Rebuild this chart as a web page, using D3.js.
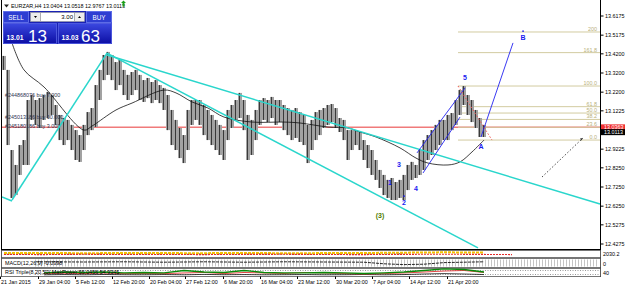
<!DOCTYPE html>
<html>
<head>
<meta charset="utf-8">
<script src="https://cdn.jsdelivr.net/npm/d3@7"></script>
<style>
body{margin:0;background:#fff;}
svg{display:block;font-family:"Liberation Sans",Arial,sans-serif;}
</style>
</head>
<body>
<svg id="chart"></svg>
<script>
// EURZAR H4 bars (high / low), one entry per bar slot
var hiVals = [13.409,13.336,12.918,12.840,12.944,12.970,13.179,13.205,13.179,13.189,
 13.205,13.221,13.205,13.153,13.101,13.085,13.075,13.049,13.022,12.996,
 13.049,13.116,13.137,13.257,13.336,13.414,13.430,13.414,13.377,13.388,
 13.336,13.310,13.325,13.336,13.310,13.283,13.294,13.273,13.283,13.257,
 13.242,13.205,13.127,13.075,13.033,12.996,13.127,13.179,13.179,13.179,
 13.153,13.127,13.101,13.075,13.049,13.022,13.127,13.153,13.179,13.216,
 13.179,13.101,13.075,13.127,13.179,13.189,13.179,13.195,13.179,13.179,
 13.153,13.137,13.127,13.137,13.116,13.101,13.049,13.075,13.116,13.127,
 13.137,13.153,13.158,13.137,13.085,13.075,13.022,13.022,13.022,13.012,
 12.970,12.944,12.918,12.866,12.814,12.788,12.762,12.772,12.751,12.762,
 12.788,12.840,12.856,12.840,12.918,12.970,12.996,13.022,13.049,13.075,
 13.075,13.101,13.111,13.179,13.231,13.252,13.205,13.179,13.127,13.085,
 13.049];
var loVals = [13.336,12.944,12.668,12.683,12.788,12.840,12.840,13.075,13.049,13.033,
 13.075,13.085,13.101,13.049,12.970,12.944,12.970,12.918,12.866,12.856,
 12.918,12.996,13.022,13.038,13.179,13.283,13.310,13.283,13.231,13.257,
 13.205,13.179,13.205,13.231,13.179,13.169,13.189,13.163,13.179,13.163,
 13.127,13.022,12.944,12.918,12.876,12.850,12.918,13.049,13.075,13.049,
 12.996,12.970,12.944,12.918,12.892,12.866,12.970,13.033,13.075,13.085,
 13.022,12.866,12.892,12.970,13.049,13.075,13.064,13.085,13.049,13.064,
 13.022,12.996,12.970,12.981,12.960,12.944,12.850,12.918,12.970,12.996,
 13.033,13.049,13.064,13.033,13.012,12.970,12.866,12.918,12.944,12.918,
 12.866,12.824,12.788,12.762,12.720,12.683,12.668,12.657,12.657,12.668,
 12.657,12.709,12.762,12.772,12.788,12.814,12.866,12.892,12.918,12.944,
 12.970,12.970,13.022,13.049,13.101,13.153,13.101,13.064,13.033,12.986,
 12.986];

var maIdx = [2,5,10,20,22,28,32,40,43,47,51,55,62,70,74,81,86,89,93,99,103,106,111,114,117,120];
var maVals = [13.477,13.336,13.247,13.022,13.043,13.127,13.163,13.231,13.216,13.169,13.137,13.090,13.064,
 13.064,13.059,13.038,13.033,13.012,12.986,12.929,12.876,12.850,12.840,12.856,12.908,12.970];

var priceTicks = [13.6175,13.5175,13.4200,13.3200,13.2200,13.1225,12.9225,12.8250,12.7250,12.6250,12.5275,12.4275];
var timeLabels = ["21 Jan 2015","29 Jan 04:00","5 Feb 12:00","12 Feb 20:00","20 Feb 04:00","27 Feb 12:00",
 "6 Mar 20:00","16 Mar 04:00","23 Mar 12:00","30 Mar 20:00","7 Apr 04:00","14 Apr 12:00","21 Apr 20:00"];
var timeIdx = [-0.75,8.75,18,27.25,36.5,45.5,55,64.25,73.5,83,92.25,101.5,111];

var askLine = 13.0363, bidPrice = 13.0113;

// trendlines: [index1, price1, index2, price2]
var cyanLines = [[-0.5,12.673,2,12.652],[2,12.657,25.75,13.424],[25.75,13.414,149,12.636],[25.75,13.424,118.5,12.407]];
var blueLines = [[103.25,12.903,115.25,13.242],[104.75,12.798,114,13.090],[119.25,12.986,127.25,13.477]];
var redDotted = [113.5,13.252,122,12.970];
var blackDotted = [134.5,12.777,144.75,12.981];

var fibStartIdx = 113.5, fibZero = 12.970, fibHundred = 13.252;
var fibLevels = [0,23.6,38.2,50,61.8,100,161.8,200];
var fibNames = ["0.0","23.6","38.2","50.0","61.8","100.0","161.8","200"];

var waveNames = ["1","2","3","4","5","A","B","(3)"];
var waveIdx = [96.5,100,98.75,103,115.25,119.25,129.75,94];
var wavePrice = [12.746,12.642,12.840,12.715,13.294,12.934,13.503,12.574];

var orderNames = ["#244868076 buy 7.000","#245013186 buy 10.000","#245180186 buy 3.000"];
var orderPrice = [13.205,13.092,13.045];

// sub window indicators
var p1Idx = [0,10,20,30,40,50,60,70,80,90,100,110,120,127];
var p1Yellow = [6.5,6.8,6.3,6.7,6.5,6.4,6.8,6.3,6.5,6.7,7.2,7.8,7.4,null];
var p1Red = [4.2,4.0,4.5,4.1,4.2,4.0,4.3,4.5,4.1,4.0,4.4,4.6,4.3,4.0];
var p1Black = [5.2,5.3,5.0,5.4,5.2,5.1,5.3,5.0,5.2,5.3,5.4,null,null,null];
var p2Idx = [8,20,30,40,50,60,70,80,90,95,100,105,110,120];
var macdVals = [0.3,0.25,0.3,0.2,0.3,0.2,0.3,0.25,0.2,-0.2,-0.4,-0.3,0.1,0.3];
var p3Idx = [10,15,20,25,30,35,40,45,50,55,60,65,70,75,80,85,90,95,100,105,110,115,120];
var p3Green = [3.8,5,4.4,5,3.8,4.4,3.8,6.9,5,4.4,6.9,4.4,3.8,3.8,4.4,3.8,3.1,3.8,5,6.9,8.8,8.1,5];
var p3Red = [3,3.5,3,3.8,3,3.1,3,3.8,4.4,3,4.4,3.8,3.1,4.4,3.8,3.1,2.5,3,3.8,5,6.2,6.9,4.4];
var p3Black = [1.5,1.8,1.5,1.9,1.6,1.5,1.8,1.5,2,1.6,1.8,1.5,1.6,1.8,1.5,1.6,1.9,1.5,1.8,2.5,3,2.5,1.8];

var W = 625, H = 286, right = 600.5, mainBottom = 249.5;
var fs = 5.4;

var svg = d3.select('#chart').attr('width', W).attr('height', H);

var x = d3.scaleLinear().domain([0,120]).range([4,484]);
var y = d3.scaleLinear().domain([12.4275,13.6175]).range([244,16]);
var p1y = d3.scaleLinear().domain([0,10]).range([257,251]);
var p2y = d3.scaleLinear().domain([-1,1]).range([267,259]);
var p3y = d3.scaleLinear().domain([0,10]).range([276,268]);

var defs = svg.append('defs');
defs.append('clipPath').attr('id','mainClip').append('rect')
	.attr('x',2).attr('y',0).attr('width',right-2).attr('height',mainBottom);
var grad = defs.append('linearGradient').attr('id','blueBox')
	.attr('x1',0).attr('y1',0).attr('x2',0).attr('y2',1);
grad.append('stop').attr('offset','0%').attr('stop-color','#3b48e0');
grad.append('stop').attr('offset','100%').attr('stop-color','#0c0ea4');

var main = svg.append('g').attr('clip-path','url(#mainClip)');

// ask line
main.append('line')
	.attr('x1',0).attr('x2',right)
	.attr('y1',y(askLine)).attr('y2',y(askLine))
	.attr('stroke','#f07a7a').attr('stroke-width',1.5);

// fibonacci
var fibY = function(l){ return y(fibZero + (fibHundred-fibZero)*l/100); };
main.selectAll('.fib').data(fibLevels).enter().append('line')
	.attr('x1',x(fibStartIdx)).attr('x2',right)
	.attr('y1',fibY).attr('y2',fibY)
	.attr('stroke','#d2cba0').attr('stroke-width',1);
main.selectAll('.fibt').data(fibLevels).enter().append('text')
	.attr('x',597).attr('y',function(d){return fibY(d)-1;})
	.attr('text-anchor','end').attr('font-size',fs).attr('fill','#b8b07c')
	.text(function(d,i){return fibNames[i];});

// bars
var bars = main.append('g');
bars.selectAll('rect').data(hiVals).enter().append('rect')
	.attr('x',function(d,i){return x(i)-2;})
	.attr('width',4)
	.attr('y',function(d){return y(d);})
	.attr('height',function(d,i){return y(loVals[i])-y(d);})
	.attr('fill','#a2a2a2');
bars.selectAll('line').data(hiVals).enter().append('line')
	.attr('x1',function(d,i){return x(i)-0.5;}).attr('x2',function(d,i){return x(i)-0.5;})
	.attr('y1',function(d){return y(d);})
	.attr('y2',function(d,i){return y(loVals[i]);})
	.attr('stroke','#3a3a3a').attr('stroke-width',1);

// order labels
main.selectAll('.ord').data(orderNames).enter().append('text')
	.attr('x',5).attr('y',function(d,i){return y(orderPrice[i])+2;})
	.attr('font-size',fs).attr('fill','#2e3450')
	.text(function(d){return d;});

// moving average
main.append('path')
	.datum(maIdx)
	.attr('d', d3.line().curve(d3.curveCatmullRom)
		.x(function(d){return x(d);})
		.y(function(d,i){return y(maVals[i]);}))
	.attr('fill','none').attr('stroke','#111').attr('stroke-width',0.8);

function seg(g, d, color, w, dash){
	g.append('line')
		.attr('x1',x(d[0])).attr('y1',y(d[1]))
		.attr('x2',x(d[2])).attr('y2',y(d[3]))
		.attr('stroke',color).attr('stroke-width',w)
		.attr('stroke-dasharray',dash||null);
}
cyanLines.forEach(function(d){ seg(main,d,'#2ad6cc',1.5); });
blueLines.forEach(function(d){ seg(main,d,'#2424f0',0.9); });
seg(main,redDotted,'#f05050',1,'1.5,2');
seg(main,blackDotted,'#333',0.9,'1.5,2');
main.append('path')
	.attr('d','M'+(x(blackDotted[2])-3)+','+(y(blackDotted[3])+0.5)+'l3,-0.5l-1.5,2.5z')
	.attr('fill','#333');

// wave labels
main.selectAll('.wave').data(waveNames).enter().append('text')
	.attr('x',function(d,i){return x(waveIdx[i]);})
	.attr('y',function(d,i){return y(wavePrice[i])+2.5;})
	.attr('text-anchor','middle').attr('font-size',7).attr('font-weight','bold')
	.attr('fill',function(d){return d=='(3)' ? '#4f7d00' : '#1a1af0';})
	.text(function(d){return d;});
[[100,12.642],[129.75,13.503]].forEach(function(d){
	main.append('rect').attr('x',x(d[0])-0.7).attr('y',y(d[1])-7.5)
		.attr('width',1.5).attr('height',1.5).attr('fill','#1a1af0');
});

// frames
svg.append('line').attr('x1',1.5).attr('x2',1.5).attr('y1',0).attr('y2',277)
	.attr('stroke','#000');
svg.append('line').attr('x1',right).attr('x2',right).attr('y1',0).attr('y2',277)
	.attr('stroke','#000');
svg.append('line').attr('x1',1.5).attr('x2',right).attr('y1',mainBottom).attr('y2',mainBottom)
	.attr('stroke','#000');

// price axis
var axisG = svg.append('g');
axisG.selectAll('line').data(priceTicks).enter().append('line')
	.attr('x1',right).attr('x2',right+3)
	.attr('y1',function(d){return y(d);}).attr('y2',function(d){return y(d);})
	.attr('stroke','#000');
axisG.selectAll('text').data(priceTicks).enter().append('text')
	.attr('x',605).attr('y',function(d){return y(d)+2;})
	.attr('font-size',fs).attr('fill','#000')
	.text(function(d){return d.toFixed(4);});
axisG.append('rect').attr('x',601).attr('y',y(askLine)-3).attr('width',24).attr('height',6)
	.attr('fill','#f03030');
axisG.append('text').attr('x',604).attr('y',y(askLine)+2).attr('font-size',fs).attr('fill','#fff')
	.text(askLine.toFixed(4));
axisG.append('rect').attr('x',601).attr('y',y(bidPrice)-3).attr('width',24).attr('height',6)
	.attr('fill','#000');
axisG.append('text').attr('x',604).attr('y',y(bidPrice)+2).attr('font-size',fs).attr('fill','#fff')
	.text(bidPrice.toFixed(4));

// sub windows
[[250.5,257.5],[258.5,267.5],[268.5,276.5]].forEach(function(r){
	svg.append('rect').attr('x',1.5).attr('y',r[0]).attr('width',right-1.5).attr('height',r[1]-r[0])
		.attr('fill','#fff').attr('stroke','#555').attr('stroke-width',0.8);
});

function subLine(idx, vals, sc, color, w, dash){
	svg.append('path').datum(idx)
		.attr('d', d3.line().defined(function(d,i){return vals[i]!=null;})
			.x(function(d){return x(d);}).y(function(d,i){return sc(vals[i]);}))
		.attr('fill','none').attr('stroke',color).attr('stroke-width',w)
		.attr('stroke-dasharray',dash||null);
}
// panel 1
subLine(p1Idx,p1Black,p1y,'#222',0.8,'1,1.5');
subLine(p1Idx,p1Yellow,p1y,'#f2c200',2,'3,1');
subLine(p1Idx,p1Red,p1y,'#e42a2a',1.1,'2,1');
svg.append('text').attr('x',603).attr('y',256).attr('font-size',fs).text('2030.2');

// panel 2
svg.append('line').attr('x1',35).attr('x2',599).attr('y1',263).attr('y2',263)
	.attr('stroke','#c4c4c4').attr('stroke-width',7).attr('stroke-dasharray','1,2');
subLine(p2Idx,macdVals,p2y,'#111',0.9,'3,1');
svg.append('text').attr('x',5).attr('y',265).attr('font-size',fs).attr('fill','#000')
	.text('MACD(12,26,9) -0.0398');
svg.append('text').attr('x',603).attr('y',265.5).attr('font-size',fs).text('0');

// panel 3
[270.5,274.5].forEach(function(v){
	svg.append('line').attr('x1',35).attr('x2',599).attr('y1',v).attr('y2',v)
		.attr('stroke','#999').attr('stroke-width',1).attr('stroke-dasharray','1,1.5');
});
subLine(p3Idx,p3Black,p3y,'#111',0.8);
subLine(p3Idx,p3Red,p3y,'#e03030',0.9);
subLine(p3Idx,p3Green,p3y,'#0a8a0a',1.3);
svg.append('text').attr('x',5).attr('y',274).attr('font-size',fs).attr('fill','#000')
	.text('RSI Triple(8,20,50) MaxPower 55.0456 54.9345');
svg.append('text').attr('x',603).attr('y',275).attr('font-size',fs).text('40');

// time axis
svg.selectAll('.tt').data(timeLabels).enter().append('text')
	.attr('x',function(d,i){return x(timeIdx[i]);})
	.attr('y',283.5).attr('font-size',fs).attr('fill','#000')
	.text(function(d){return d;});
svg.selectAll('.tk').data(timeIdx).enter().append('line')
	.attr('x1',function(d){return x(d)-0.5;}).attr('x2',function(d){return x(d)-0.5;})
	.attr('y1',276.5).attr('y2',279).attr('stroke','#000');

// header
svg.append('path').attr('d','M4,4.5L9,4.5L6.5,7.5Z').attr('fill','#222');
svg.append('text').attr('x',11).attr('y',8).attr('font-size',fs).attr('fill','#000')
	.text('EURZAR,H4  13.0404 13.0518 12.9767 13.0113');
svg.append('path').attr('d','M123.5,0.5L126,3L124.5,3L124.5,6.5L122.5,6.5L122.5,3L121,3Z').attr('fill','#1aa01a');

// one click trading panel
var otp = svg.append('g');
otp.append('rect').attr('x',3).attr('y',11).attr('width',109).attr('height',33).attr('fill','#1a22b4');
otp.append('rect').attr('x',3.5).attr('y',11.5).attr('width',25).attr('height',11)
	.attr('fill','#2e3ed2').attr('stroke','#6c7cf0').attr('stroke-width',0.8);
otp.append('rect').attr('x',86.5).attr('y',11.5).attr('width',25).attr('height',11)
	.attr('fill','#2e3ed2').attr('stroke','#6c7cf0').attr('stroke-width',0.8);
otp.append('rect').attr('x',3.5).attr('y',23.5).attr('width',53).attr('height',20)
	.attr('fill','url(#blueBox)').attr('stroke','#5662e4').attr('stroke-width',0.8);
otp.append('rect').attr('x',58.5).attr('y',23.5).attr('width',53).attr('height',20)
	.attr('fill','url(#blueBox)').attr('stroke','#5662e4').attr('stroke-width',0.8);
otp.append('rect').attr('x',30.5).attr('y',12.5).attr('width',10).attr('height',9)
	.attr('fill','#ececec').attr('stroke','#9a9a9a').attr('stroke-width',0.6);
otp.append('rect').attr('x',40.5).attr('y',12.5).attr('width',34).attr('height',9)
	.attr('fill','#fff').attr('stroke','#9a9a9a').attr('stroke-width',0.6);
otp.append('rect').attr('x',74.5).attr('y',12.5).attr('width',10).attr('height',9)
	.attr('fill','#ececec').attr('stroke','#9a9a9a').attr('stroke-width',0.6);
otp.append('path').attr('d','M34,16L37,16L35.5,18Z').attr('fill','#000');
otp.append('path').attr('d','M78,18L81,18L79.5,16Z').attr('fill','#000');
otp.append('text').attr('x',73).attr('y',19.3).attr('text-anchor','end').attr('font-size',6).text('3.00');
otp.append('text').attr('x',16).attr('y',19.5).attr('text-anchor','middle').attr('font-size',6.3)
	.attr('fill','#fff').text('SELL');
otp.append('text').attr('x',99).attr('y',19.5).attr('text-anchor','middle').attr('font-size',6.3)
	.attr('fill','#fff').text('BUY');
otp.append('text').attr('x',6.5).attr('y',40).attr('font-size',6.8).attr('font-weight','bold')
	.attr('fill','#fff').text('13.01');
otp.append('text').attr('x',28).attr('y',41.5).attr('font-size',17).attr('fill','#fff').text('13');
otp.append('text').attr('x',61.5).attr('y',40).attr('font-size',6.8).attr('font-weight','bold')
	.attr('fill','#fff').text('13.03');
otp.append('text').attr('x',81).attr('y',41.5).attr('font-size',17).attr('fill','#fff').text('63');
</script>
</body>
</html>
